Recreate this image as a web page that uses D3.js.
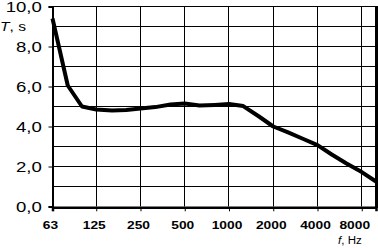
<!DOCTYPE html>
<html>
<head>
<meta charset="utf-8">
<script src="https://cdn.jsdelivr.net/npm/d3@7"></script>
<style>
  body { margin: 0; background: #fff; }
  text { font-family: "Liberation Sans", Arial, sans-serif; fill: #000; }
</style>
</head>
<body>
<div id="chart"></div>
<script>
// reverberation time per 1/3 octave band
const freqs = [63, 80, 100, 125, 160, 200, 250, 315, 400, 500, 630, 800, 1000,
               1250, 1600, 2000, 2500, 3150, 4000, 5000, 6300, 8000, 10000]
const rt = [9.4, 6.05, 5.0, 4.85, 4.8, 4.83, 4.9, 4.97, 5.1, 5.15, 5.05, 5.08, 5.12,
            5.02, 4.5, 4.0, 3.72, 3.4, 3.07, 2.6, 2.15, 1.72, 1.25]
const xTicks = [63, 125, 250, 500, 1000, 2000, 4000, 8000]
const yTicks = [0, 2, 4, 6, 8, 10]
const yGrid = [1, 2, 3, 4, 5, 6, 7, 8, 9, 10]

const width = 378
const height = 248

const svg = d3.select("#chart")
  .append("svg")
    .attr("width", width)
    .attr("height", height)

const x = d3.scaleLog()
  .domain([63, 10000])
  .range([52.5, 376])

const y = d3.scaleLinear()
  .domain([0, 10])
  .range([206.5, 6.5])

const crisp = v => Math.round(v - 0.5) + 0.5

// grid
svg.append("g")
  .selectAll("line")
  .data(yGrid)
  .join("line")
    .attr("x1", x.range()[0]).attr("x2", x.range()[1])
    .attr("y1", d => y(d)).attr("y2", d => y(d))
    .attr("stroke", "#000").attr("stroke-width", 1)

svg.append("g")
  .selectAll("line")
  .data(xTicks.slice(1))
  .join("line")
    .attr("x1", d => crisp(x(d))).attr("x2", d => crisp(x(d)))
    .attr("y1", y(10)).attr("y2", y(0))
    .attr("stroke", "#000").attr("stroke-width", 1)

// right border (thick)
svg.append("line")
  .attr("x1", 376.5).attr("x2", 376.5)
  .attr("y1", y(10) - 0.5).attr("y2", y(0) + 1.5)
  .attr("stroke", "#000").attr("stroke-width", 3)

// y axis
const yAxis = svg.append("g")
  .attr("transform", `translate(${x.range()[0]},0)`)
  .call(d3.axisLeft(y).tickValues(yTicks).tickSize(4).tickPadding(0)
        .tickFormat(d => d3.format(".1f")(d).replace(".", ",")))
yAxis.select(".domain").attr("stroke-width", 2)
yAxis.selectAll(".tick line").attr("stroke-width", 1)
yAxis.selectAll(".tick text")
  .attr("font-size", 15)
  .attr("font-family", null)
  .attr("x", -8.6)
  .attr("dy", "0.36em")
  .attr("transform", "scale(1.24,1)")

// x axis
const xAxis = svg.append("g")
  .attr("transform", `translate(0,${y(0) + 0.8})`)
  .call(d3.axisBottom(x).tickValues(xTicks).tickSize(4).tickPadding(0)
        .tickFormat(d3.format("d")))
xAxis.select(".domain").attr("stroke-width", 2.5)
xAxis.selectAll(".tick line").attr("stroke-width", 1)
xAxis.selectAll(".tick text")
  .attr("font-size", 11)
  .attr("font-weight", "bold")
  .attr("font-family", null)
  .attr("y", 14)
  .attr("x", -2)
  .attr("transform", "scale(1.25,1)")
xAxis.selectAll(".tick text").filter(d => d === 8000).attr("x", -6)

// curve
const line = d3.line()
  .x((d, i) => x(freqs[i]))
  .y(d => y(d))

svg.append("path")
  .datum(rt)
  .attr("fill", "none")
  .attr("stroke", "#000")
  .attr("stroke-width", 4)
  .attr("stroke-linejoin", "round")
  .attr("d", line)

// axis titles
const tTitle = svg.append("text")
  .attr("transform", "translate(0,31) scale(1.3,1)")
  .attr("font-size", 12)
tTitle.append("tspan").attr("font-style", "italic").text("T")
tTitle.append("tspan").text(", s")

const fTitle = svg.append("text")
  .attr("transform", "translate(338,244) scale(1.05,1)")
  .attr("font-size", 11)
fTitle.append("tspan").attr("font-style", "italic").text("f")
fTitle.append("tspan").text(", Hz")
</script>
</body>
</html>
